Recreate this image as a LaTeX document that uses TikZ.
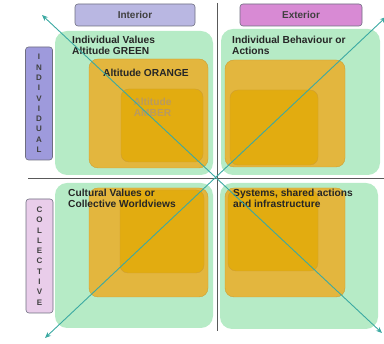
\documentclass[tikz,border=0pt]{standalone}
\usepackage{fontspec}
\setmainfont{Liberation Sans}
\usetikzlibrary{arrows.meta}
\definecolor{qgreen}{HTML}{B6EBC6}
\definecolor{qorange}{HTML}{E3B63E}
\definecolor{qamber}{HTML}{E2AC10}
\definecolor{oborder}{HTML}{CF9E30}
\definecolor{intfill}{HTML}{B9B7E2}
\definecolor{extfill}{HTML}{D88AD4}
\definecolor{indfill}{HTML}{9E9ADC}
\definecolor{colfill}{HTML}{E9CDEA}
\definecolor{hdrborder}{HTML}{6E6E80}
\definecolor{diag}{HTML}{3BA9A2}
\definecolor{ambertext}{HTML}{B89A60}
\tikzset{
  greenq/.style={fill=qgreen, draw=none, rounded corners=12pt},
  orangeq/.style={fill=qorange, draw=oborder, line width=0.4pt, rounded corners=9pt},
  amberq/.style={fill=qamber, draw=oborder, line width=0.4pt, rounded corners=8pt},
  hdr/.style={draw=hdrborder, line width=0.6pt, rounded corners=3pt, inner sep=0pt},
  lbl/.style={font=\fontsize{10.2}{11}\selectfont\bfseries, align=left, anchor=north west, inner sep=0pt, text=black!85},
  vert/.style={font=\fontsize{8}{10.3}\selectfont\bfseries, align=center, inner sep=0pt, text=black!75},
  axis/.style={draw=black!65, line width=0.7pt},
  diagline/.style={draw=diag, line width=0.9pt, {Stealth[length=6pt,width=5pt]}-{Stealth[length=6pt,width=5pt]}}
}
\begin{document}
\begin{tikzpicture}[x=1pt,y=-1pt]
\useasboundingbox (0,0) rectangle (384,344);
% green quadrants
\path[greenq] (55,31) rectangle (213,175);
\path[greenq] (221,29) rectangle (380,175);
\path[greenq] (55,183) rectangle (213,328);
\path[greenq] (220,183) rectangle (378,329);
% orange boxes
\path[orangeq] (89,59) rectangle (208,168);
\path[amberq] (121,89) rectangle (203,162);
\path[orangeq] (225,60) rectangle (345,167);
\path[amberq] (230,90) rectangle (318,165);
\path[orangeq] (89,188) rectangle (208,297);
\path[amberq] (120,190) rectangle (204,273);
\path[orangeq] (225,188) rectangle (345,297);
\path[amberq] (228,190) rectangle (318,271);
% axes
\coordinate (vtop) at (217,3);
\coordinate (vbot) at (217,331);
\coordinate (hleft) at (28,178);
\coordinate (hright) at (384,178);
\draw[axis] (vtop) -- (vbot);
\draw[axis] (hleft) -- (hright);
% headers
\node[hdr, fill=intfill, minimum width=120pt, minimum height=22pt, font=\fontsize{10}{12}\selectfont\bfseries, text=black!75] (interior) at (135,15) {Interior};
\node[hdr, fill=extfill, minimum width=122pt, minimum height=22pt, font=\fontsize{10}{12}\selectfont\bfseries, text=black!75] (exterior) at (301,15) {Exterior};
\node[hdr, fill=indfill, minimum width=27pt, minimum height=113pt] (indbox) at (39,103.5) {};
\node[vert] (indtext) at (indbox.center) {I\\N\\D\\I\\V\\I\\D\\U\\A\\L};
\node[hdr, fill=colfill, minimum width=27pt, minimum height=114pt] (colbox) at (39.5,256) {};
\node[vert] (coltext) at (colbox.center) {C\\O\\L\\L\\E\\C\\T\\I\\V\\E};
% labels
\node[lbl] (iv) at (72,36) {Individual Values\\Altitude GREEN};
\node[lbl] (ao) at (103,69) {Altitude ORANGE};
\node[lbl, text=ambertext, align=center, anchor=north, font=\fontsize{10.2}{11.5}\selectfont\bfseries] (aa) at (152.5,97.5) {Altitude\\AMBER};
\node[lbl] (ib) at (232,36) {Individual Behaviour or\\Actions};
\node[lbl] (cv) at (68,189) {Cultural Values or\\Collective Worldviews};
\node[lbl] (sy) at (233,189) {Systems, shared actions\\and infrastructure};
% diagonals
\coordinate (dtl) at (42,15);
\coordinate (dbr) at (382,333);
\coordinate (dbl) at (45,338);
\coordinate (dtr) at (386,17);
\draw[diagline] (dtl) -- (dbr);
\draw[diagline] (dbl) -- (dtr);
\end{tikzpicture}
\end{document}
